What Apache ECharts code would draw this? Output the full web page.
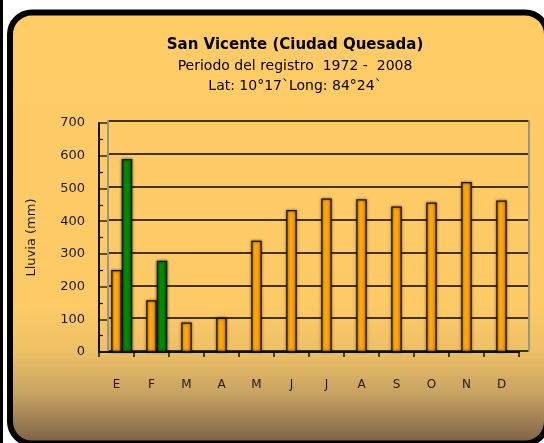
<!DOCTYPE html>
<html>
<head>
<meta charset="utf-8">
<style>
  html, body { margin: 0; padding: 0; background: #ffffff; }
  #chart { width: 544px; height: 443px; }
</style>
<script src="https://cdn.jsdelivr.net/npm/echarts@6/dist/echarts.min.js"></script>
</head>
<body>
<div id="chart"></div>
<script>
// Monthly rainfall, San Vicente (Ciudad Quesada)
const months = ['E', 'F', 'M', 'A', 'M', 'J', 'J', 'A', 'S', 'O', 'N', 'D'];
const lluviaMedia = [251, 158, 90, 105, 340, 434, 469, 467, 445, 457, 520, 463];
const lluviaExtra = [590, 279, null, null, null, null, null, null, null, null, null, null];
const yTicks = { min: 0, max: 700, interval: 100 };

const titleText = 'San Vicente (Ciudad Quesada)';
const subText = 'Periodo del registro  1972 -  2008\nLat: 10°17`Long: 84°24`';
const yName = 'Lluvia (mm)';

const FONT = '"DejaVu Sans", Verdana, sans-serif';
const W = 544, H = 443;

const chart = echarts.init(document.getElementById('chart'), null, { renderer: 'canvas' });

const orangeFill = new echarts.graphic.LinearGradient(0, 0, 1, 0, [
  { offset: 0, color: '#f59a00' },
  { offset: 0.35, color: '#ffab10' },
  { offset: 0.7, color: '#ffa000' },
  { offset: 1, color: '#d98600' }
]);
const greenFill = new echarts.graphic.LinearGradient(0, 0, 1, 0, [
  { offset: 0, color: '#006f00' },
  { offset: 0.35, color: '#009000' },
  { offset: 0.7, color: '#008400' },
  { offset: 1, color: '#005f00' }
]);

const barStyle = (fill) => ({
  color: fill,
  borderColor: '#1a1200',
  borderWidth: 1.3,
  shadowColor: 'rgba(0,0,0,0.6)',
  shadowBlur: 3
});

// back wall, front plane, and a plane shifted by one bar width for the second bar
const grids = [
  { left: 108, right: W - 529, top: 121, bottom: H - 351 },
  { left: 99, right: W - 519, top: 123, bottom: H - 352 },
  { left: 109.5, right: W - 529.5, top: 123, bottom: H - 352 }
];

const option = {
  animation: false,
  backgroundColor: 'transparent',
  graphic: [
    { type: 'rect', z: -10, shape: { x: 0, y: 0, width: 3, height: H }, style: { fill: '#000' } },
    {
      type: 'rect', z: -10,
      shape: { x: 10, y: 12.5, width: 537, height: 431, r: 22 },
      style: {
        fill: new echarts.graphic.LinearGradient(0, 0, 0, 1, [
          { offset: 0, color: '#ffcc66' },
          { offset: 0.68, color: '#fdca66' },
          { offset: 0.78, color: '#eec066' },
          { offset: 0.88, color: '#c7a262' },
          { offset: 1, color: '#775c44' }
        ]),
        stroke: '#000',
        lineWidth: 6
      }
    }
  ],
  title: {
    text: titleText,
    subtext: subText,
    left: 290,
    textAlign: 'center',
    top: 33,
    itemGap: 3,
    textStyle: { fontFamily: FONT, fontSize: 15, fontWeight: 'bold', color: '#000' },
    subtextStyle: { fontFamily: FONT, fontSize: 14, color: '#000', lineHeight: 20 }
  },
  grid: grids,
  xAxis: [
    {
      gridIndex: 0, type: 'category', data: months,
      axisLine: { show: false }, axisTick: { show: false }, axisLabel: { show: false }
    },
    {
      gridIndex: 1, type: 'category', data: months,
      axisLine: { show: true, lineStyle: { color: '#111', width: 2 } },
      axisTick: { show: true, interval: 0, length: 5, lineStyle: { color: '#111', width: 1.5 } },
      axisLabel: { interval: 0, margin: 27, fontFamily: FONT, fontSize: 12, color: '#1a1a1a' }
    },
    {
      gridIndex: 2, type: 'category', data: months, show: false
    }
  ],
  yAxis: [
    {
      gridIndex: 0, type: 'value', min: yTicks.min, max: yTicks.max, interval: yTicks.interval,
      axisLine: { show: true, lineStyle: { color: '#9a9488', width: 2 } },
      axisTick: { show: false }, axisLabel: { show: false },
      splitLine: { show: true, lineStyle: { color: 'rgba(35,25,5,0.85)', width: 2 } }
    },
    {
      gridIndex: 1, type: 'value', min: yTicks.min, max: yTicks.max, interval: yTicks.interval,
      name: yName, nameLocation: 'middle', nameGap: 61, nameRotate: 90,
      nameTextStyle: { fontFamily: FONT, fontSize: 13, color: '#1a1a1a' },
      axisLine: { show: true, lineStyle: { color: '#111', width: 2 } },
      axisTick: { show: true, inside: true, length: 8, lineStyle: { color: 'rgba(30,20,5,0.85)', width: 1.6 } },
      minorTick: { show: true, splitNumber: 2, length: 4, lineStyle: { color: '#111', width: 1.2 } },
      axisLabel: { margin: 14, fontFamily: FONT, fontSize: 13, color: '#1a1a1a' },
      splitLine: { show: false }
    },
    {
      gridIndex: 2, type: 'value', min: yTicks.min, max: yTicks.max, interval: yTicks.interval, show: false,
      splitLine: { show: false }
    },
    {
      gridIndex: 0, type: 'value', position: 'right', min: yTicks.min, max: yTicks.max, interval: yTicks.interval,
      axisLine: { show: true, lineStyle: { color: '#9a9488', width: 2 } },
      axisTick: { show: false }, axisLabel: { show: false }, splitLine: { show: false }
    }
  ],
  series: [
    {
      type: 'bar', xAxisIndex: 1, yAxisIndex: 1, data: lluviaMedia,
      barWidth: 10.5, itemStyle: barStyle(orangeFill), z: 3
    },
    {
      type: 'bar', xAxisIndex: 2, yAxisIndex: 2, data: lluviaExtra,
      barWidth: 10.5, itemStyle: barStyle(greenFill), z: 3
    }
  ]
};

chart.setOption(option);
</script>
</body>
</html>
